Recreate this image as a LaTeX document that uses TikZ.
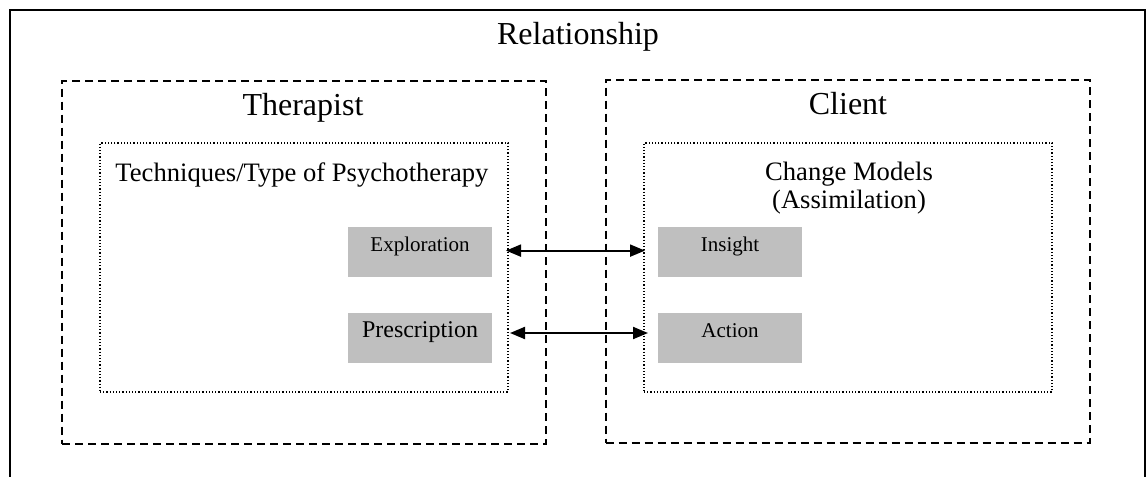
\documentclass[tikz,border=0pt]{standalone}
\usepackage{fontspec}
\setmainfont{Liberation Serif}
\usetikzlibrary{arrows.meta}

\begin{document}
\begin{tikzpicture}[
            x = 0.5pt, y = -0.5pt, % one unit is one pixel of the page
            >= {Triangle[length=7.5pt,width=6pt]}, % arrow head style
            line width = 1pt,
            dashbox/.style = {draw, dash pattern=on 4pt off 2.5pt, minimum width=242pt, minimum height=181.5pt, inner sep=0pt},
            dotbox/.style = {draw, line width=0.6pt, densely dotted, minimum width=204pt, minimum height=124.5pt, inner sep=0pt},
            greybox/.style = {fill=black!25, minimum width=72pt, minimum height=25pt, inner sep=0pt, text height=7.5pt, text depth=8pt}
        ]
\useasboundingbox (0,0) rectangle (1147,477);

% outer frame, open at the bottom
\coordinate (bl) at (10,477);
\coordinate (br) at (1145,477);
\draw (bl) |- (1145,10) -- (br);
\node[anchor=base, font=\fontsize{16}{19}\selectfont] (rel) at (578,44) {Relationship};

% the two sides
\node[dashbox] (ther) at (304,262) {};
\node[dashbox] (cli) at (847.5,261) {};
\node[anchor=base, font=\fontsize{16}{19}\selectfont] (thert) at (303,115) {Therapist};
\node[anchor=base, font=\fontsize{16}{19}\selectfont] (clit) at (848,114) {Client};

\node[dotbox] (tech) at (304,267.5) {};
\node[dotbox] (chg) at (848,267.5) {};
\node[anchor=base, font=\fontsize{13.3}{16}\selectfont] (techt) at (302,181) {Techniques/Type of Psychotherapy};
\node[anchor=base, font=\fontsize{13.3}{16}\selectfont] (chgt) at (849,180) {Change Models};
\node[anchor=base, font=\fontsize{13.3}{16}\selectfont] (chgs) at (849,208) {(Assimilation)};

\node[greybox, font=\fontsize{10.5}{12}\selectfont] (expl) at (420,252) {Exploration};
\node[greybox, font=\fontsize{12}{14}\selectfont] (pres) at (420,338) {Prescription};
\node[greybox, font=\fontsize{10.5}{12}\selectfont] (ins) at (730,252) {Insight};
\node[greybox, font=\fontsize{10.5}{12}\selectfont] (act) at (730,338) {Action};

 \draw [<->, shorten <=6.5pt, shorten >=6pt] ([yshift=0.7pt]expl.east) -- ([yshift=0.7pt]ins.west);
 \draw [<->, shorten <=8.5pt, shorten >=4.5pt] ([yshift=2.5pt]pres.east) -- ([yshift=2.5pt]act.west);

\end{tikzpicture}
\end{document}
